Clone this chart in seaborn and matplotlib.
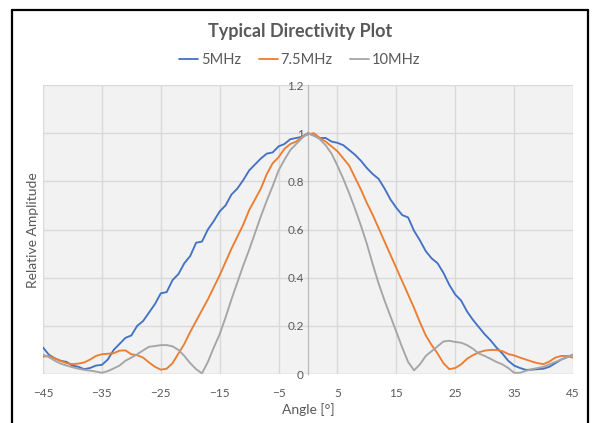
import numpy as np
import pandas as pd
import matplotlib
matplotlib.use("Agg")
import matplotlib.pyplot as plt
from matplotlib.lines import Line2D
from matplotlib.ticker import FuncFormatter
import seaborn as sns

# Beam angle in degrees, 1 degree steps
angles = list(range(-45, 46))

amp_5mhz = [
    0.11, 0.08, 0.065, 0.055, 0.05, 0.035, 0.03, 0.02, 0.025, 0.035,
    0.038, 0.06, 0.10, 0.125, 0.15, 0.16, 0.20, 0.22, 0.255, 0.29,
    0.335, 0.34, 0.39, 0.415, 0.46, 0.49, 0.545, 0.55, 0.60, 0.635,
    0.675, 0.70, 0.745, 0.77, 0.805, 0.845, 0.87, 0.895, 0.915, 0.92,
    0.945, 0.955, 0.975, 0.98, 0.985, 1.0, 0.99, 0.98, 0.98, 0.965,
    0.96, 0.95, 0.93, 0.91, 0.885, 0.855, 0.83, 0.81, 0.77, 0.725,
    0.69, 0.66, 0.65, 0.595, 0.555, 0.51, 0.48, 0.46, 0.42, 0.37,
    0.33, 0.305, 0.26, 0.225, 0.195, 0.165, 0.14, 0.11, 0.085, 0.055,
    0.035, 0.025, 0.017, 0.018, 0.02, 0.022, 0.03, 0.045, 0.06, 0.07,
    0.08,
]

amp_7_5mhz = [
    0.072, 0.075, 0.065, 0.054, 0.045, 0.041, 0.043, 0.048, 0.06, 0.075,
    0.082, 0.084, 0.086, 0.097, 0.098, 0.082, 0.078, 0.068, 0.048, 0.03,
    0.018, 0.022, 0.045, 0.085, 0.125, 0.175, 0.22, 0.265, 0.31, 0.36,
    0.41, 0.465, 0.52, 0.57, 0.62, 0.68, 0.725, 0.77, 0.83, 0.875,
    0.90, 0.935, 0.955, 0.965, 0.985, 0.995, 1.0, 0.98, 0.965, 0.945,
    0.925, 0.895, 0.865, 0.815, 0.765, 0.71, 0.66, 0.605, 0.55, 0.495,
    0.44, 0.385, 0.33, 0.275, 0.215, 0.16, 0.12, 0.085, 0.045, 0.02,
    0.025, 0.04, 0.063, 0.078, 0.09, 0.097, 0.10, 0.10, 0.095, 0.083,
    0.077, 0.068, 0.06, 0.052, 0.045, 0.041, 0.052, 0.068, 0.075, 0.075,
    0.068,
]

amp_10mhz = [
    0.08, 0.07, 0.055, 0.043, 0.035, 0.028, 0.022, 0.017, 0.014, 0.01,
    0.005, 0.012, 0.023, 0.035, 0.055, 0.068, 0.082, 0.098, 0.113, 0.116,
    0.12, 0.12, 0.115, 0.10, 0.075, 0.045, 0.02, 0.003, 0.05, 0.11,
    0.165, 0.235, 0.31, 0.38, 0.45, 0.515, 0.585, 0.655, 0.72, 0.78,
    0.845, 0.89, 0.93, 0.955, 0.98, 1.0, 0.99, 0.975, 0.95, 0.915,
    0.865, 0.81, 0.75, 0.685, 0.615, 0.54, 0.455, 0.375, 0.305, 0.24,
    0.175, 0.11, 0.05, 0.015, 0.04, 0.075, 0.095, 0.115, 0.135, 0.138,
    0.133, 0.13, 0.12, 0.105, 0.085, 0.075, 0.063, 0.05, 0.04, 0.025,
    0.005, 0.005, 0.013, 0.02, 0.025, 0.03, 0.04, 0.05, 0.06, 0.07,
    0.08,
]

series_names = ["5MHz", "7.5MHz", "10MHz"]
series_colors = ["#4472C4", "#ED7D31", "#A5A5A5"]
x_ticks = list(range(-45, 46, 10))
y_ticks = [0, 0.2, 0.4, 0.6, 0.8, 1.0, 1.2]

df = pd.DataFrame({
    "Angle": angles * 3,
    "Amplitude": amp_5mhz + amp_7_5mhz + amp_10mhz,
    "Frequency": [n for n in series_names for _ in angles],
})

sns.set_theme(style="white")
plt.rcParams["font.family"] = ["Lato", "DejaVu Sans"]

text_grey = "#595959"

fig = plt.figure(figsize=(5.92, 4.23), dpi=100)
fig.patch.set_facecolor("white")
ax = fig.add_axes([43 / 592, 1 - 374 / 423, 530 / 592, 289 / 423])
ax.set_facecolor("#F2F2F2")

sns.lineplot(
    data=df, x="Angle", y="Amplitude", hue="Frequency",
    hue_order=series_names, palette=series_colors,
    linewidth=1.35, ax=ax, legend=False,
)

ax.set_xlim(-45, 45)
ax.set_ylim(0, 1.2)
ax.set_xticks(x_ticks)
ax.set_yticks(y_ticks)
ax.yaxis.set_major_formatter(FuncFormatter(lambda v, p: f"{v:g}"))

# grid
ax.grid(True, color="#D9D9D9", linewidth=1.0)
ax.set_axisbelow(True)

for side in ["top", "right", "bottom"]:
    ax.spines[side].set_visible(False)
ax.spines["left"].set_position(("data", 0))
ax.spines["left"].set_color("#BFBFBF")
ax.spines["left"].set_linewidth(1.0)
ax.spines["left"].set_zorder(1.5)
ax.axhline(0, color="#D9D9D9", linewidth=1.0, zorder=0.5)

ax.tick_params(axis="both", length=0, labelsize=8.5, colors=text_grey)
ax.tick_params(axis="y", pad=3)
ax.tick_params(axis="x", pad=10)

ax.set_xlabel("Angle [°]", fontsize=10, color=text_grey, labelpad=3)
ax.set_ylabel("", fontsize=10)
fig.text(33 / 592, 1 - 230 / 423, "Relative Amplitude", rotation=90,
         ha="center", va="center", fontsize=10, color=text_grey)

fig.text(300 / 592, 1 - 31 / 423, "Typical Directivity Plot",
         ha="center", va="center", fontsize=13, fontweight="bold", color=text_grey)

handles = [Line2D([0], [0], color=c, linewidth=1.3) for c in series_colors]
fig.legend(handles, series_names, loc="center", bbox_to_anchor=(300 / 592, 1 - 60 / 423),
           ncol=3, frameon=False, fontsize=10.5, handlelength=1.3, handletextpad=0.2,
           columnspacing=1.2, labelcolor=text_grey)

# chart frame
frame_kw = dict(color="black", linewidth=1.6, transform=fig.transFigure)
fig.add_artist(Line2D([11.5 / 592, 11.5 / 592], [0, 1 - 10 / 423], **frame_kw))
fig.add_artist(Line2D([588 / 592, 588 / 592], [0, 1 - 10 / 423], **frame_kw))
fig.add_artist(Line2D([11.5 / 592, 588 / 592], [1 - 10 / 423, 1 - 10 / 423], **frame_kw))

fig.savefig("out.png", dpi=100)
